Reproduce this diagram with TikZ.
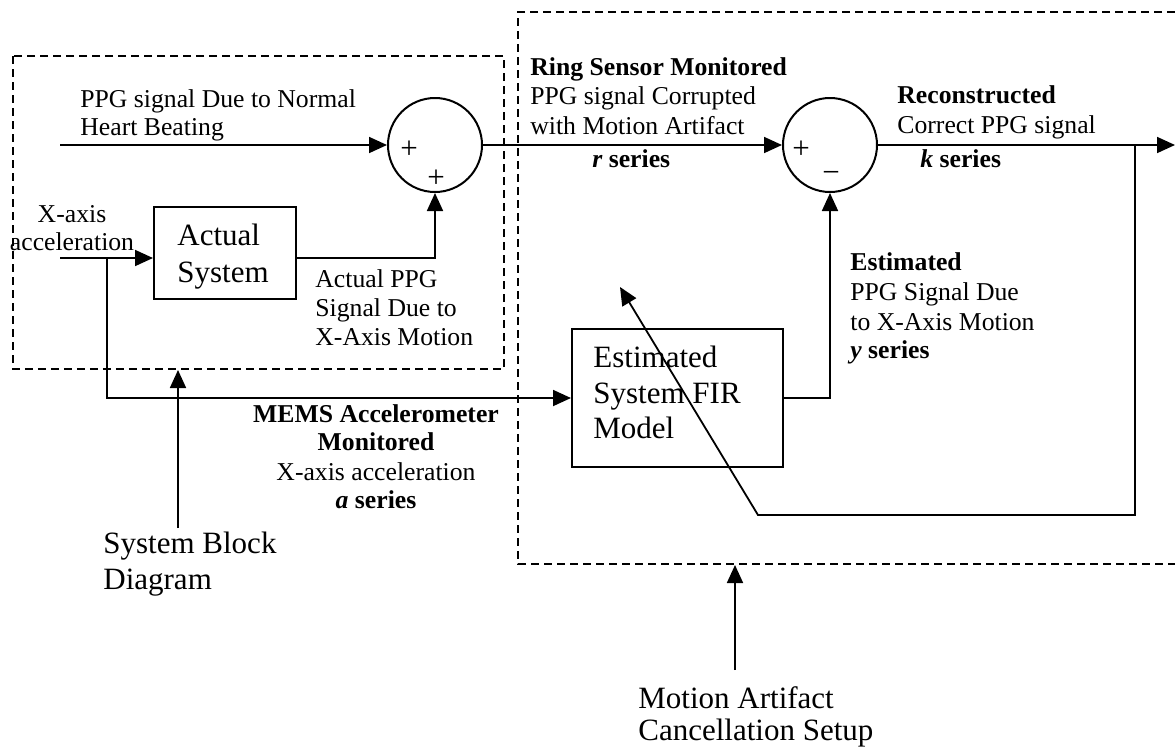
\documentclass[tikz,border=0pt]{standalone}
\usepackage{fontspec}
\setmainfont{Liberation Serif}
\usetikzlibrary{arrows.meta}
\tikzset{
  sm/.style={font=\fontsize{12.85pt}{15pt}\selectfont, inner sep=0pt},
  lg/.style={font=\fontsize{15.5pt}{18pt}\selectfont, inner sep=0pt},
  lbl/.style={sm, anchor=base west},
  lbll/.style={lg, anchor=base west},
  lblc/.style={sm, anchor=base},
  sign/.style={lg},
  blockbox/.style={draw, line width=1pt, minimum width=#1, inner sep=0pt},
  sumnode/.style={draw, circle, line width=1pt, minimum size=47pt, inner sep=0pt},
  conn/.style={line width=0.9pt},
  arr/.style={conn, -{Triangle[length=9pt,width=8pt]}},
  dashbox/.style={line width=1pt, dash pattern=on 4pt off 2.5pt},
}
\begin{document}
\begin{tikzpicture}[x=0.5pt, y=-0.5pt]
\useasboundingbox (0,0) rectangle (1175,751);

% dashed group boxes
\draw[dashbox] (13,56) rectangle (504,369);
\draw[dashbox] (1175,12) -- (518,12) -- (518,564) -- (1175,564);

% summing junctions
\node[sumnode] (s1) at (435,145) {};
\node[sumnode] (s2) at (830,145) {};
\node[sign] (s1p1) at (409,150) {+};
\node[sign] (s1p2) at (436,179) {+};
\node[sign] (s2p1) at (801,150) {+};
\node[sign] (s2m) at (831,177) {−};

% blocks
\node[blockbox=71pt, minimum height=46pt] (act) at (225,253) {};
\node[blockbox=105.5pt, minimum height=69pt] (est) at (677.5,398) {};
\node[lbll] (actt1) at (177,245) {Actual};
\node[lbll] (actt2) at (177,282) {System};
\node[lbll] (estt1) at (593,367) {Estimated};
\node[lbll] (estt2) at (593,403) {System FIR};
\node[lbll] (estt3) at (593,438) {Model};

% coordinates
\coordinate (ppgin) at (60,145);
\coordinate (xin) at (60,258);
\coordinate (xj) at (107,258);
\coordinate (out) at (1175,145);
\coordinate (kj) at (1135,145);
\coordinate (fb1) at (1135,515);
\coordinate (fb2) at (758,515);
\coordinate (fbtip) at (620,287);
\coordinate (p1s) at (178,528);
\coordinate (p1e) at (178,370);
\coordinate (p2s) at (735,670);
\coordinate (p2e) at (735,565);

% connectors
\draw[arr] (ppgin) -- (s1.west);
\draw[arr] (xin) -- (xin -| act.west);
\draw[arr] (xin -| act.east) -| (s1.south);
\draw[arr] (xj) |- (est.west);
\draw[arr] (s1.east) -- (s2.west);
\draw[arr] (est.east) -| (s2.south);
\draw[arr] (s2.east) -- (out);
\draw[arr] (kj) -- (fb1) -- (fb2) -- (fbtip);
\draw[arr] (p1s) -- (p1e);
\draw[arr] (p2s) -- (p2e);

% labels
\node[lbl] (l1a) at (80,107) {PPG signal Due to Normal};
\node[lbl] (l1b) at (80,135) {Heart Beating};
\node[lblc] (l2a) at (72,222) {X-axis};
\node[lblc] (l2b) at (72,250) {acceleration};
\node[lbl] (l3a) at (315,287) {Actual PPG};
\node[lbl] (l3b) at (315,316) {Signal Due to};
\node[lbl] (l3c) at (315,345) {X-Axis Motion};
\node[lbl] (l4a) at (530,75) {\bfseries Ring Sensor Monitored};
\node[lbl] (l4b) at (530,104) {PPG signal Corrupted};
\node[lbl] (l4c) at (530,134) {with Motion Artifact};
\node[lbl] (l4d) at (592,167) {\bfseries\itshape r\upshape{} series};
\node[lbl] (l5a) at (897,103) {\bfseries Reconstructed};
\node[lbl] (l5b) at (897,133) {Correct PPG signal};
\node[lbl] (l5c) at (920,167) {\bfseries\itshape k\upshape{} series};
\node[lbl] (l6a) at (850,270) {\bfseries Estimated};
\node[lbl] (l6b) at (850,300) {PPG Signal Due};
\node[lbl] (l6c) at (850,330) {to X-Axis Motion};
\node[lbl] (l6d) at (850,358) {\bfseries\itshape y\upshape{} series};
\node[lblc] (l7a) at (376,422) {\bfseries MEMS Accelerometer};
\node[lblc] (l7b) at (376,450) {\bfseries Monitored};
\node[lblc] (l7c) at (376,480) {X-axis acceleration};
\node[lblc] (l7d) at (376,508) {\bfseries\itshape a\upshape{} series};
\node[lbll] (l8a) at (103,553) {System Block};
\node[lbll] (l8b) at (103,589) {Diagram};
\node[lbll] (l9a) at (638,708) {Motion Artifact};
\node[lbll] (l9b) at (638,740) {Cancellation Setup};
\end{tikzpicture}
\end{document}
